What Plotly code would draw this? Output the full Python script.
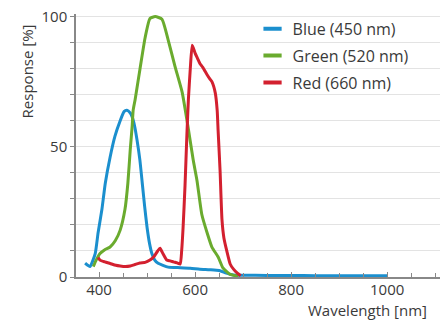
import plotly.graph_objects as go

# ---- data ----
blue_wl = [371, 381, 392, 398, 406, 413, 423, 433, 444, 452, 458, 465, 469, 474, 479, 485,
           490, 495, 500, 505, 510, 516, 523, 544, 569, 590, 610, 630, 650, 665, 680, 700,
           750, 800, 850, 900, 950, 1000]
blue_val = [5.3, 4.0, 9, 17, 26, 36, 46, 54, 60, 63.5, 64, 63, 61.5, 58, 52.7, 45,
            36, 27, 19, 13, 9, 6.5, 5.3, 3.8, 3.6, 3.4, 3.0, 2.8, 2.5, 1.5, 0.8, 0.7,
            0.6, 0.6, 0.5, 0.5, 0.5, 0.5]

green_wl = [388, 394, 402, 412, 423, 434, 444, 454, 460, 465, 469, 471, 475, 485, 496, 506,
            517, 531, 544, 558, 573, 585, 596, 604, 614, 625, 635, 648, 658, 673, 690]
green_val = [4.0, 6.5, 9, 10.5, 11.5, 14, 18, 26, 36, 49, 58, 64, 68, 79.6, 92, 99.3,
             100, 99, 91, 81, 71, 58, 45, 37, 24, 17, 11.5, 7.7, 3.5, 1.0, 0.3]

red_wl = [398, 402, 412, 423, 435, 444, 455, 465, 475, 485, 496, 506, 515, 522, 527, 533,
          541, 548, 555, 563, 569, 572, 575, 579, 583, 586, 590, 594, 600, 605, 610, 616,
          625, 631, 635, 642, 646, 648, 652, 656, 660, 666, 673, 680, 688, 695]
red_val = [7.5, 6.5, 5.8, 5.2, 4.5, 4.2, 4.0, 4.2, 4.8, 5.4, 5.6, 6.5, 8, 10, 11, 9,
           6.5, 6.2, 5.8, 5.4, 5.0, 10, 19, 35, 55, 68, 80, 89, 86, 84, 82, 80.5,
           77.7, 76, 75, 70.7, 64, 56, 41, 22, 15, 10, 5, 3, 1.5, 0.5]

series_names = ["Blue (450 nm)", "Green (520 nm)", "Red (660 nm)"]
colors = ["#1b8fce", "#6aab2e", "#d3202f"]

y_ticks = [0, 50, 100]
x_ticks = [400, 600, 800, 1000]

FONT = "Open Sans"
TXT = "#3a3a3a"

fig = go.Figure()
for wl, val, col in zip([blue_wl, green_wl, red_wl], [blue_val, green_val, red_val], colors):
    fig.add_trace(go.Scatter(x=wl, y=val, mode="lines",
                             line=dict(color=col, width=3, shape="spline", smoothing=0.5),
                             showlegend=False, hoverinfo="skip"))

# legend entries (short thick dash symbols)
for i, (name, col) in enumerate(zip(series_names, colors)):
    fig.add_trace(go.Scatter(x=[None], y=[None], mode="markers", name=name,
                             legendgroup=str(i),
                             marker=dict(symbol="line-ew", size=13,
                                         line=dict(color=col, width=4))))

fig.update_layout(
    width=441, height=320,
    margin=dict(l=76, r=1, t=14, b=43),
    plot_bgcolor="white", paper_bgcolor="white",
    font=dict(family=FONT, size=15, color=TXT),
    legend=dict(x=0.485, y=1.008, xanchor="left", yanchor="top",
                bgcolor="rgba(0,0,0,0)", font=dict(size=16, color=TXT),
                traceorder="grouped", tracegroupgap=3, itemwidth=30),
    xaxis=dict(range=[352, 1110], tickvals=x_ticks, ticks="inside", ticklen=5,
               tickcolor="#888", showgrid=False, showline=True, linecolor="#888",
               linewidth=1.5, zeroline=False, ticklabelstandoff=-2,
               minor=dict(dtick=50, tick0=0, ticks="inside", ticklen=4, tickcolor="#888"),
               tickfont=dict(size=15, color=TXT)),
    yaxis=dict(range=[0, 101], tickvals=y_ticks, ticks="outside", ticklen=4,
               tickcolor="#888", showgrid=True, gridcolor="#e3e3e3", gridwidth=1,
               showline=True, linecolor="#888", linewidth=1.5, zeroline=False,
               ticklabelstandoff=0,
               minor=dict(dtick=10, tick0=0, ticks="outside", ticklen=4, tickcolor="#888",
                          showgrid=True, gridcolor="#e3e3e3", gridwidth=1),
               tickfont=dict(size=15, color=TXT)),
    annotations=[
        dict(text="Wavelength [nm]", xref="paper", yref="paper", x=0.632, y=-0.08,
             xanchor="left", yanchor="top", showarrow=False,
             font=dict(size=15, color=TXT)),
        dict(text="Response [%]", xref="paper", yref="paper", x=-0.136, y=0.97,
             xanchor="center", yanchor="top", textangle=-90, showarrow=False,
             font=dict(size=15, color=TXT)),
    ],
)

# remove the browser's default 8px page margin so the figure sits at the window's corner
fig.write_html("out.html", config={"displayModeBar": False},
               post_script="document.body.style.margin='0';")
